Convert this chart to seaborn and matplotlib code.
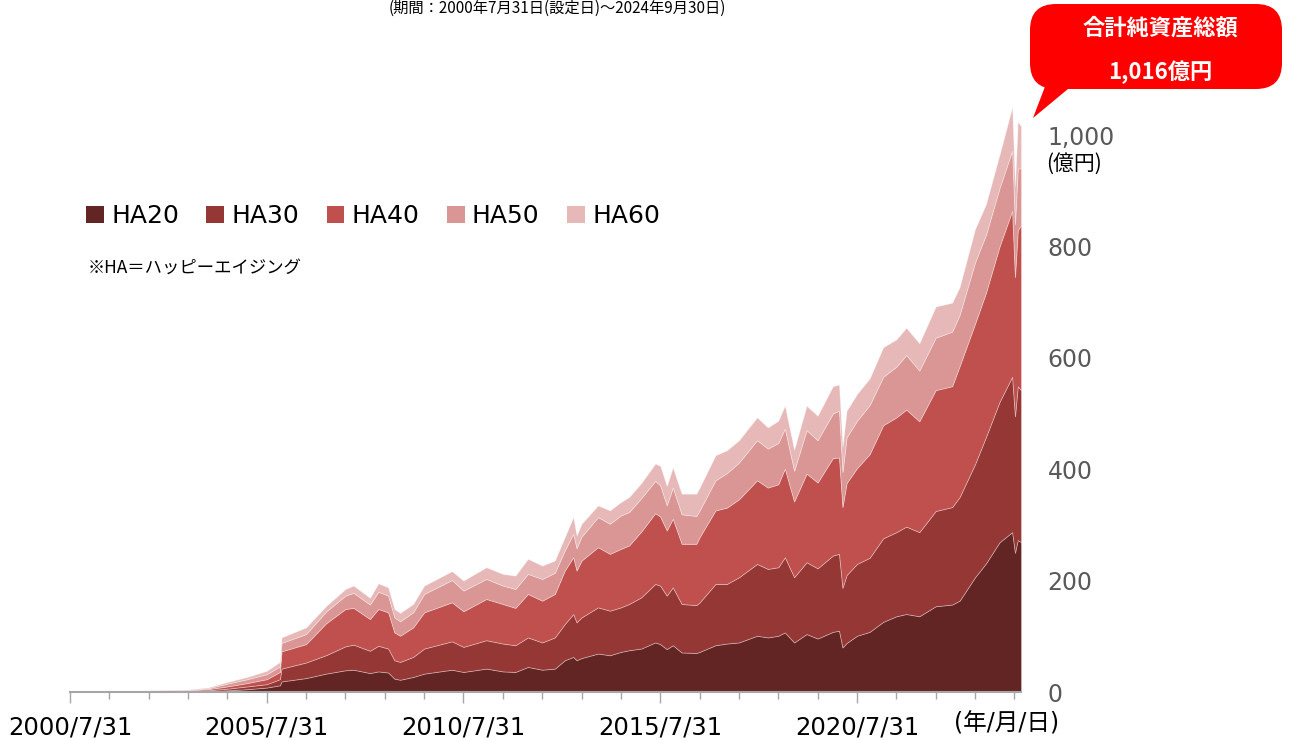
import numpy as np
import pandas as pd
import matplotlib
matplotlib.use("Agg")
import matplotlib.pyplot as plt
from matplotlib.patches import FancyBboxPatch, Polygon, Patch
from matplotlib.transforms import IdentityTransform
import seaborn as sns

# values (億円), one column per fund
dates = ["2000-07-31", "2001-07-31", "2002-07-31", "2003-07-31", "2004-01-31", "2004-07-31",
         "2005-01-31", "2005-07-31", "2005-11-30", "2005-12-15", "2006-07-31", "2007-01-31",
         "2007-07-31", "2007-10-15", "2008-03-15", "2008-06-01", "2008-08-31", "2008-10-28",
         "2008-12-20", "2009-04-20", "2009-07-31", "2010-04-15", "2010-07-31", "2011-02-28",
         "2011-07-31", "2011-11-25", "2012-03-20", "2012-07-31", "2012-11-25", "2013-02-25",
         "2013-05-15", "2013-06-15", "2013-07-31", "2013-12-31", "2014-04-20", "2014-07-31",
         "2014-10-15", "2015-02-05", "2015-06-15", "2015-07-31", "2015-09-30", "2015-11-25",
         "2016-02-15", "2016-07-01", "2016-07-31", "2016-12-25", "2017-04-10", "2017-07-31",
         "2018-01-15", "2018-04-25", "2018-07-31", "2018-09-30", "2018-12-25", "2019-04-20",
         "2019-07-31", "2019-12-20", "2020-02-15", "2020-03-18", "2020-04-25", "2020-07-31",
         "2020-11-25", "2021-03-31", "2021-07-31", "2021-10-31", "2022-03-01", "2022-07-31",
         "2022-12-31", "2023-03-10", "2023-07-31", "2023-11-10", "2024-03-15", "2024-07-10",
         "2024-08-05", "2024-08-31", "2024-09-30"]
ha20 = [0.2, 0.4, 0.6, 1.0, 1.5, 3, 5, 8, 12, 19, 25, 33,
        39, 40, 34, 37, 35, 24, 22, 27, 33, 40, 36, 42,
        37, 36, 45, 40, 42, 57, 63, 57, 61, 69, 66, 72,
        75, 78, 89, 86, 77, 84, 71, 70, 72, 84, 87, 89,
        101, 98, 101, 107, 89, 104, 96, 108, 110, 80, 88, 101,
        108, 126, 136, 140, 136, 154, 157, 164, 206, 231, 269, 287,
        250, 273, 269]
ha30 = [0.2, 0.4, 0.5, 0.8, 1.5, 3, 5, 6, 11, 23, 28, 33,
        43, 45, 40, 46, 43, 33, 32, 36, 45, 51, 45, 51,
        50, 48, 53, 49, 56, 65, 77, 68, 73, 83, 80, 80,
        83, 92, 105, 105, 96, 104, 87, 86, 89, 110, 107, 117,
        129, 123, 123, 135, 117, 129, 126, 137, 138, 107, 122, 129,
        133, 150, 151, 157, 151, 171, 175, 186, 203, 227, 252, 279,
        245, 276, 273]
ha40 = [0.2, 0.4, 0.6, 1.0, 2.0, 4, 6, 9, 13, 31, 33, 57,
        67, 66, 57, 66, 65, 50, 47, 53, 65, 70, 64, 74,
        71, 67, 78, 75, 78, 96, 102, 93, 102, 108, 102, 105,
        105, 118, 127, 124, 117, 123, 108, 110, 117, 132, 137, 140,
        150, 146, 149, 159, 136, 159, 154, 175, 173, 145, 165, 172,
        186, 203, 206, 210, 199, 217, 217, 235, 252, 259, 279, 298,
        250, 280, 296]
ha50 = [0.2, 0.4, 0.5, 0.7, 1.5, 5, 7, 9, 10, 15, 18, 21,
        24, 27, 26, 31, 30, 27, 26, 27, 33, 40, 37, 36,
        33, 34, 36, 39, 38, 36, 42, 40, 43, 54, 54, 60,
        60, 60, 58, 56, 45, 56, 53, 50, 48, 54, 62, 66,
        72, 70, 74, 72, 55, 78, 76, 80, 84, 63, 82, 85,
        88, 87, 91, 98, 91, 94, 98, 92, 110, 104, 105, 108,
        95, 111, 102]
ha60 = [0.2, 0.4, 0.6, 1.0, 1.5, 3, 4, 6, 8, 10, 12, 10,
        12, 13, 12, 15, 15, 15, 15, 15, 15, 16, 18, 21,
        21, 24, 27, 24, 22, 24, 30, 23, 23, 21, 24, 24,
        27, 27, 31, 35, 35, 36, 37, 40, 41, 45, 41, 40,
        41, 38, 40, 41, 38, 44, 44, 49, 47, 45, 48, 48,
        48, 53, 49, 49, 49, 56, 52, 50, 60, 55, 60, 78,
        68, 84, 76]
names = ["HA20", "HA30", "HA40", "HA50", "HA60"]
colors = ["#632523", "#953735", "#C0504D", "#D99694", "#E6B9B8"]
y_ticks = [0, 200, 400, 600, 800, 1000]
x_labels = ["2000/7/31", "2005/7/31", "2010/7/31", "2015/7/31", "2020/7/31"]
total_label = "1,016億円"

df = pd.DataFrame({"date": pd.to_datetime(dates), "HA20": ha20, "HA30": ha30,
                   "HA40": ha40, "HA50": ha50, "HA60": ha60})

sns.set_theme(style="white")
plt.rcParams["font.family"] = ["DejaVu Sans", "Noto Sans CJK JP"]
plt.rcParams["text.color"] = "black"
pal = sns.color_palette(colors)
cjk = ["Noto Sans CJK JP", "DejaVu Sans"]

W, H = 1290, 740
fig = plt.figure(figsize=(W / 100, H / 100), dpi=100)
ax = fig.add_axes([70 / W, 48 / H, (1021 - 70) / W, 612.7 / H])

x = df["date"].dt.to_pydatetime()
ax.stackplot(x, [df[n] for n in names], colors=pal, edgecolor=(1, 1, 1, 0.35), linewidth=0.6)

ax.set_xlim(x[0], x[-1])
ax.set_ylim(0, 1100)

# yearly ticks at 7/31, labels every 5 years
years = pd.date_range("2000-07-31", "2024-07-31", freq=pd.DateOffset(years=1)).to_pydatetime()
ax.set_xticks(years[::5])
ax.set_xticklabels(x_labels)
ax.set_xticks(years, minor=True)
ax.tick_params(axis="x", which="major", length=8, width=1, color="#A6A6A6", direction="out",
               labelsize=17.5, labelcolor="black", pad=9, bottom=True)
ax.tick_params(axis="x", which="minor", length=5, width=1, color="#A6A6A6", direction="out", bottom=True)

ax.yaxis.tick_right()
ax.set_yticks(y_ticks)
ax.set_yticklabels([f"{v:,}" for v in y_ticks])
ax.tick_params(axis="y", length=0, pad=19, labelsize=17, labelcolor="#595959")

for s in ["top", "left", "right"]:
    ax.spines[s].set_visible(False)
ax.spines["bottom"].set_color("#A6A6A6")
ax.spines["bottom"].set_linewidth(1.5)
ax.grid(False)

fig.text(1046 / W, 1 - 164 / H, "(億円)", fontsize=15, ha="left", va="center", family=cjk)
fig.text(1007 / W, 1 - 724 / H, "(年/月/日)", fontsize=17, ha="center", va="center")

# legend
handles = [Patch(facecolor=c, edgecolor="none", label=n) for c, n in zip(pal, names)]
fig.legend(handles=handles, loc="center left", bbox_to_anchor=(86 / W, 1 - 216 / H), ncol=5,
           frameon=False, fontsize=18, handlelength=0.7, handleheight=0.7, handletextpad=0.3,
           columnspacing=1.1, borderaxespad=0, borderpad=0, labelcolor="black")
fig.text(88 / W, 1 - 268 / H, "※HA＝ハッピーエイジング", fontsize=12.5, ha="left", va="center",
         family=cjk)

# period line at the very top (mostly cut off in the reference)
fig.text(557 / W, 1 - 8 / H, "(期間：2000年7月31日(設定日)～2024年9月30日)", fontsize=11,
         ha="center", va="center", family=cjk)

# red callout
box = FancyBboxPatch((1030, 651), 252, 85, boxstyle="round,pad=0,rounding_size=26",
                     transform=IdentityTransform(), facecolor="#FF0000", edgecolor="none")
tail = Polygon([(1046, 656), (1074, 656), (1033, 622)], closed=True,
               transform=IdentityTransform(), facecolor="#FF0000", edgecolor="none")
fig.add_artist(box)
fig.add_artist(tail)
fig.text(1160 / W, 1 - 28 / H, "合計純資産総額", fontsize=16, fontweight="bold", color="white",
         ha="center", va="center", family=cjk)
fig.text(1160 / W, 1 - 72 / H, total_label, fontsize=16, fontweight="bold", color="white",
         ha="center", va="center", family=cjk)

fig.savefig("out.png", dpi=100)
